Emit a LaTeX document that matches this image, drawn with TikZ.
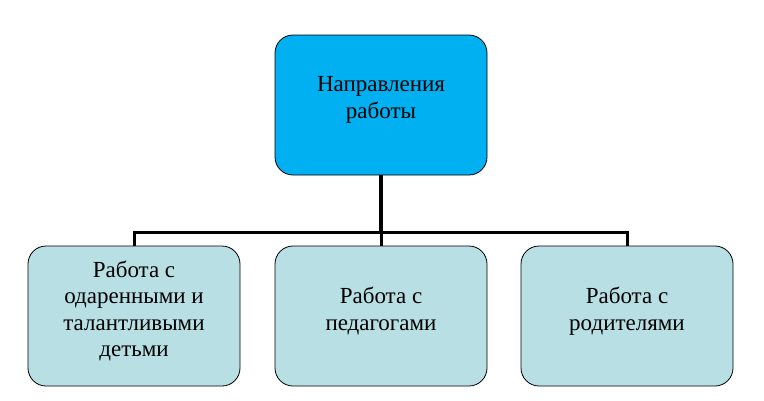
\documentclass[tikz,border=0pt]{standalone}
\usepackage{fontspec}
\setmainfont{Liberation Serif}
\begin{document}
\begin{tikzpicture}[x=1pt,y=-1pt]
\definecolor{topblue}{RGB}{0,176,240}
\definecolor{lightbox}{RGB}{183,223,228}
\tikzset{
  box/.style={draw=black, line width=0.8pt, rounded corners=18pt, minimum width=212pt, minimum height=140pt, inner sep=0pt},
  topbox/.style={box, fill=topblue},
  subbox/.style={box, fill=lightbox},
  boxtext/.style={align=center, inner sep=0pt, font=\fontsize{23}{26.5}\selectfont},
  conn/.style={line width=3pt, black},
}
\useasboundingbox (0,0) rectangle (764,400);
\node[topbox] (top) at (381,105) {};
\node[subbox] (a) at (134,316) {};
\node[subbox] (b) at (381,316) {};
\node[subbox] (c) at (627,316) {};
\node[boxtext] (topt) at ([yshift=5pt]top.center) {Направления\\работы};
\node[boxtext] (at) at ([yshift=5pt]a.center) {Работа с\\одаренными и\\талантливыми\\детьми};
\node[boxtext] (bt) at ([yshift=5pt]b.center) {Работа с\\педагогами};
\node[boxtext] (ct) at ([yshift=5pt]c.center) {Работа с\\родителями};
\coordinate (j) at (381,232);
\draw[conn, line width=4pt] (top.south) -- (j);
\draw[conn] (a.north) -- (a.north |- j) -- (c.north |- j) -- (c.north);
\draw[conn] (j) -- (b.north);
\end{tikzpicture}
\end{document}
